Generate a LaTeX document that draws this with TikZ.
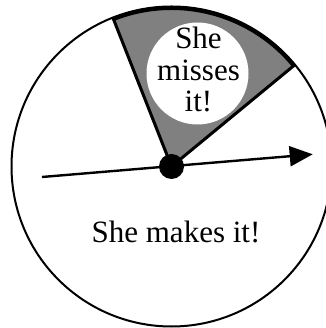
\documentclass[tikz,border=0pt]{standalone}
\usepackage{fontspec}
\setmainfont{Liberation Serif}
\usetikzlibrary{arrows.meta}
\definecolor{sectorgray}{RGB}{128,128,128}
\tikzset{
  outercircle/.style={line width=2pt},
  sectorline/.style={line width=3pt, line join=miter, fill=sectorgray},
  bigtext/.style={font=\fontsize{31}{31.5}\selectfont, inner sep=0pt},
  spinner/.style={line width=2.4pt, -{Triangle[length=23pt,width=20pt]}},
}
\begin{document}
\begin{tikzpicture}[x=1pt,y=1pt]
\useasboundingbox (0,0) rectangle (325,328);
\coordinate (C) at (171.5,161.5);
% outer circle
\draw[outercircle] (C) circle[radius=160];
% gray sector
\filldraw[sectorline] (C) -- ++(111.5:159) arc[start angle=111.5, end angle=39.5, radius=159] -- cycle;
\draw[line width=2pt] (C) ++(111.5:157.5) arc[start angle=111.5, end angle=39.5, radius=157.5];
% white disk with label
\node[circle, fill=white, minimum size=102pt, inner sep=0pt] (disk) at (197.5,254.5) {};
\node[bigtext, align=center] (miss) at (198.5,258.5) {She\\misses\\it!};
% make label
\node[bigtext, anchor=base] (make) at (176,85) {She makes it!};
% spinner arrow
\coordinate (tail) at (42,151);
\coordinate (tip) at (312.7,173.7);
\draw[spinner] (tail) -- (tip);
% hub
\node[circle, fill=black, minimum size=25pt, inner sep=0pt] (hub) at (C) {};
\end{tikzpicture}
\end{document}
